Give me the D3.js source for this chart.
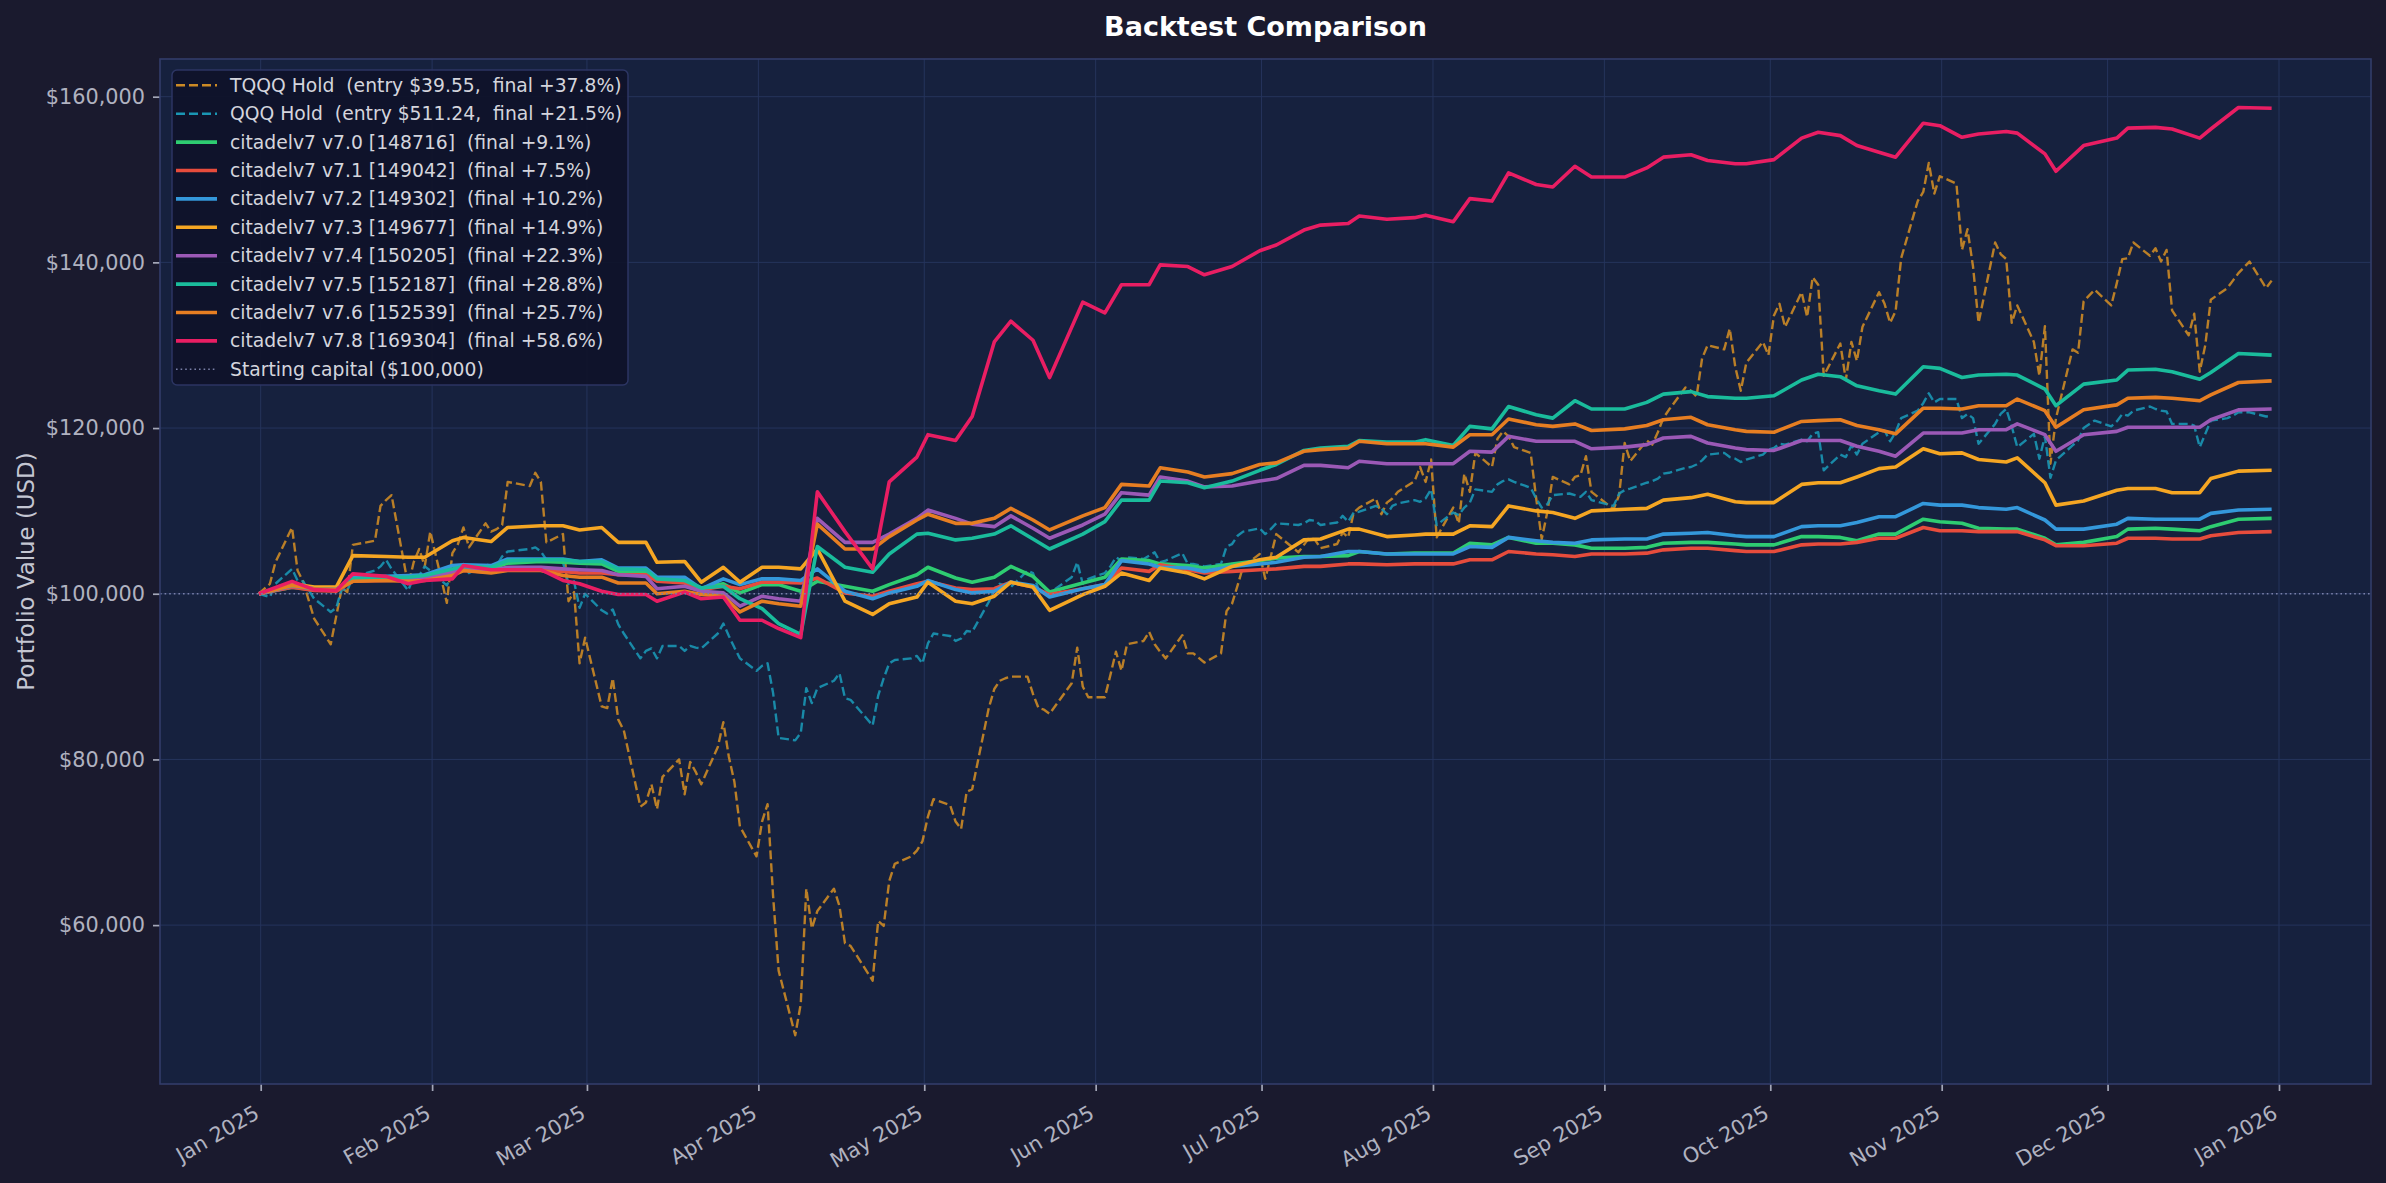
<!DOCTYPE html>
<html>
<head>
<meta charset="utf-8">
<script src="https://cdn.jsdelivr.net/npm/d3@7"></script>
<style>
  body { margin: 0; background: #1a1a2e; }
  text { font-family: "DejaVu Sans", sans-serif; }
</style>
</head>
<body>
<svg id="chart"></svg>
<script>
// ---- data (portfolio values in $ thousands) ----

// sample dates shared by all citadelv7 runs
const STRAT_DATES = [
  '2024-12-31','2025-01-06','2025-01-10','2025-01-14','2025-01-17','2025-01-23','2025-01-27','2025-01-30',
  '2025-02-04','2025-02-06','2025-02-11','2025-02-14','2025-02-20','2025-02-24','2025-02-27','2025-03-03',
  '2025-03-06','2025-03-11','2025-03-13','2025-03-18','2025-03-21','2025-03-25','2025-03-28','2025-04-01',
  '2025-04-04','2025-04-08','2025-04-11','2025-04-16','2025-04-21','2025-04-24','2025-04-29','2025-05-01',
  '2025-05-06','2025-05-09','2025-05-13','2025-05-16','2025-05-20','2025-05-23','2025-05-29','2025-06-02',
  '2025-06-05','2025-06-10','2025-06-12','2025-06-17','2025-06-20','2025-06-25','2025-06-30','2025-07-03',
  '2025-07-08','2025-07-11','2025-07-16','2025-07-18','2025-07-23','2025-07-28','2025-07-30','2025-08-04',
  '2025-08-07','2025-08-11','2025-08-14','2025-08-19','2025-08-22','2025-08-26','2025-08-29','2025-09-04',
  '2025-09-08','2025-09-11','2025-09-16','2025-09-19','2025-09-24','2025-09-26','2025-10-01','2025-10-06',
  '2025-10-09','2025-10-13','2025-10-16','2025-10-20','2025-10-23','2025-10-28','2025-10-31','2025-11-04',
  '2025-11-07','2025-11-12','2025-11-14','2025-11-19','2025-11-21','2025-11-26','2025-12-02','2025-12-04',
  '2025-12-09','2025-12-12','2025-12-17','2025-12-19','2025-12-24','2025-12-30'
];

const V70 = [
  100,100.8,100.5,100.4,101.6,101.8,101.9,102.0,102.8,103.1,103.0,103.7,103.9,103.8,103.7,103.6,
  102.7,102.7,101.8,101.5,100.7,101.2,100.1,101.1,101.1,100.3,101.5,100.9,100.3,101.1,102.3,103.2,101.9,101.4,
  102.0,103.3,102.1,100.2,101.3,102.0,104.2,104.0,103.6,103.4,103.1,103.6,104.0,104.3,
  104.5,104.5,104.6,105.1,104.8,104.9,104.9,104.9,106.1,105.9,106.8,106.1,106.1,105.9,105.5,105.5,
  105.6,106.1,106.2,106.2,106.0,105.9,105.9,106.9,106.9,106.8,106.4,107.2,107.2,109.0,108.7,108.5,
  107.9,107.8,107.8,106.7,105.9,106.2,106.9,107.8,107.9,107.8,107.6,108.1,109.0,109.1
];
const V71 = [
  100,100.8,100.4,100.3,101.5,101.6,101.6,101.7,102.4,102.8,102.6,102.9,102.9,102.7,102.5,102.5,
  102.3,102.3,101.5,101.3,100.5,100.9,100.6,101.4,101.4,101.3,101.9,100.1,99.7,100.3,101.2,101.5,100.7,100.5,
  100.6,101.4,100.8,99.9,100.6,101.1,103.1,102.7,103.5,102.9,102.5,102.7,102.9,103.0,
  103.3,103.3,103.6,103.6,103.5,103.6,103.6,103.6,104.1,104.1,105.1,104.8,104.7,104.5,104.8,104.8,
  104.9,105.3,105.5,105.5,105.2,105.1,105.1,105.9,106.0,106.0,106.2,106.7,106.7,108.0,107.6,107.6,
  107.5,107.5,107.5,106.5,105.8,105.8,106.1,106.7,106.7,106.6,106.6,107.0,107.4,107.5
];
const V72 = [
  100,101.0,100.6,100.5,102.0,102.1,102.2,102.3,103.4,103.5,103.4,104.2,104.2,104.2,103.9,104.1,
  103.1,103.1,102.0,102.0,100.6,101.8,101.1,101.8,101.8,101.6,103.0,100.3,99.4,100.1,100.9,101.6,100.5,100.1,
  100.3,101.4,101.0,99.6,100.6,101.1,104.0,103.6,103.2,103.1,102.7,103.3,103.6,103.8,
  104.4,104.5,105.1,105.1,104.8,104.8,104.8,104.8,105.7,105.6,106.8,106.4,106.2,106.1,106.5,106.6,
  106.6,107.2,107.3,107.4,107.0,106.9,106.9,108.1,108.2,108.2,108.6,109.3,109.3,110.9,110.7,110.7,
  110.4,110.2,110.4,108.9,107.8,107.8,108.4,109.1,109.0,109.0,109.0,109.7,110.1,110.2
];
const V73 = [
  100,101.2,100.8,100.8,104.6,104.5,104.4,104.4,106.4,106.8,106.3,108.0,108.2,108.2,107.7,108.0,
  106.2,106.2,103.8,103.9,101.4,103.2,101.4,103.2,103.2,103.0,105.4,99.1,97.5,98.8,99.6,101.4,99.1,98.8,
  99.7,101.4,100.8,98.0,99.9,100.9,102.5,101.6,103.1,102.5,101.8,103.3,104.1,104.4,
  106.5,106.6,107.8,107.8,106.9,107.1,107.2,107.2,108.2,108.1,110.6,110.0,109.8,109.1,110.0,110.2,
  110.3,111.3,111.6,112.0,111.1,111.0,111.0,113.2,113.4,113.4,114.1,115.1,115.3,117.5,116.9,117.0,
  116.2,115.9,116.4,113.4,110.7,111.2,112.5,112.7,112.7,112.2,112.2,113.9,114.8,114.9
];
const V74 = [
  100,100.9,100.6,100.5,101.8,101.8,101.8,101.9,102.6,103.0,102.8,103.2,103.2,103.0,102.9,102.8,
  102.3,102.1,100.6,100.9,100.3,100.1,98.5,99.7,99.4,99.1,109.1,106.2,106.2,107.2,109.1,110.1,109.1,108.4,
  108.1,109.4,107.9,106.7,108.3,109.6,112.2,111.9,114.1,113.6,112.9,113.0,113.6,113.9,
  115.5,115.5,115.2,116.0,115.7,115.7,115.7,115.7,117.2,117.1,119.0,118.4,118.4,118.4,117.5,117.7,
  118.0,118.8,119.0,118.2,117.6,117.4,117.3,118.5,118.5,118.5,117.8,117.2,116.6,119.4,119.4,119.4,
  119.8,119.8,120.5,119.2,117.2,119.2,119.6,120.1,120.1,120.1,120.1,121.0,122.2,122.3
];
const V75 = [
  100,101.0,100.6,100.5,101.8,102.0,102.0,102.2,103.0,103.3,103.2,104.0,104.1,104.1,103.9,103.9,
  103.0,102.9,101.8,101.6,100.7,100.9,99.4,98.2,96.4,95.1,105.7,103.2,102.6,104.8,107.2,107.3,106.5,106.7,
  107.2,108.2,106.6,105.4,107.2,108.7,111.3,111.3,113.6,113.4,112.8,113.6,114.9,115.6,
  117.3,117.6,117.8,118.5,118.3,118.3,118.6,117.9,120.2,119.9,122.6,121.6,121.2,123.3,122.3,122.3,
  123.1,124.1,124.4,123.8,123.6,123.6,123.9,125.8,126.5,126.2,125.1,124.5,124.1,127.4,127.2,126.1,
  126.4,126.5,126.4,124.7,122.7,125.3,125.8,127.0,127.1,126.8,125.9,126.7,129.0,128.8
];
const V76 = [
  100,101.0,100.6,100.5,101.5,101.6,101.5,101.6,102.2,102.8,102.5,102.8,102.8,102.2,102.0,102.0,
  101.3,101.3,100.0,100.3,99.9,99.7,97.8,99.1,98.8,98.5,108.4,105.4,105.4,106.9,108.9,109.6,108.5,108.5,
  109.1,110.3,108.9,107.7,109.4,110.4,113.2,113.0,115.2,114.7,114.1,114.5,115.6,115.8,
  117.2,117.4,117.6,118.4,118.1,118.1,118.1,117.7,119.2,119.2,121.1,120.4,120.2,120.5,119.7,119.9,
  120.3,121.0,121.3,120.4,119.8,119.6,119.5,120.8,120.9,121.0,120.3,119.8,119.3,122.4,122.4,122.3,
  122.7,122.7,123.5,122.1,120.1,122.2,122.8,123.6,123.7,123.6,123.3,124.0,125.5,125.7
];
const V78 = [
  100,101.5,100.5,100.4,102.4,102.1,101.2,101.6,101.8,103.4,102.9,102.9,102.9,101.6,101.2,100.3,
  99.9,99.9,99.1,100.2,99.4,99.6,96.8,96.8,95.8,94.7,112.3,107.5,103.0,113.5,116.5,119.2,118.5,121.4,
  130.4,132.9,130.6,126.1,135.2,133.9,137.3,137.3,139.7,139.5,138.5,139.5,141.4,142.1,
  143.9,144.5,144.7,145.6,145.2,145.4,145.7,144.9,147.7,147.4,150.8,149.4,149.1,151.6,150.3,150.3,
  151.4,152.7,153.0,152.3,151.9,151.9,152.4,155.0,155.7,155.3,154.1,153.3,152.7,156.8,156.5,155.1,
  155.5,155.8,155.6,153.1,151.0,154.1,155.0,156.2,156.3,156.1,155.0,156.1,158.7,158.6
];

// buy-and-hold benchmarks (daily closes)
const TQQQ = [
  ['2024-12-31',100.0],['2025-01-02',101.2],['2025-01-03',103.8],['2025-01-06',108.0],['2025-01-07',102.8],
  ['2025-01-08',101.5],['2025-01-10',97.0],['2025-01-13',93.9],['2025-01-14',97.3],['2025-01-15',100.7],
  ['2025-01-16',100.2],['2025-01-17',105.9],['2025-01-21',106.4],['2025-01-22',110.6],['2025-01-23',111.3],
  ['2025-01-24',111.9],['2025-01-27',101.0],['2025-01-28',103.8],['2025-01-29',105.4],['2025-01-30',103.3],
  ['2025-01-31',107.5],['2025-02-03',98.9],['2025-02-04',104.9],['2025-02-05',106.0],['2025-02-06',108.0],
  ['2025-02-07',105.6],['2025-02-10',108.5],['2025-02-11',107.5],['2025-02-12',107.8],['2025-02-13',108.3],
  ['2025-02-14',113.5],['2025-02-18',113.0],['2025-02-19',114.6],['2025-02-20',113.5],['2025-02-21',106.2],
  ['2025-02-24',107.2],['2025-02-25',99.1],['2025-02-26',100.2],['2025-02-27',91.6],['2025-02-28',94.7],
  ['2025-03-03',86.4],['2025-03-04',86.2],['2025-03-05',89.8],['2025-03-06',84.8],['2025-03-07',83.5],
  ['2025-03-10',74.3],['2025-03-11',74.8],['2025-03-12',77.0],['2025-03-13',74.0],['2025-03-14',77.9],
  ['2025-03-17',80.0],['2025-03-18',75.8],['2025-03-19',79.7],['2025-03-20',78.5],['2025-03-21',77.0],
  ['2025-03-24',81.5],['2025-03-25',84.5],['2025-03-26',80.3],['2025-03-27',77.3],['2025-03-28',71.9],
  ['2025-03-31',68.3],['2025-04-01',72.5],['2025-04-02',74.6],['2025-04-03',63.5],['2025-04-04',54.5],
  ['2025-04-07',46.7],['2025-04-08',50.5],['2025-04-09',64.4],['2025-04-10',59.6],['2025-04-11',61.7],
  ['2025-04-14',64.4],['2025-04-15',62.3],['2025-04-16',57.8],['2025-04-17',57.5],['2025-04-21',53.3],
  ['2025-04-22',60.5],['2025-04-23',59.9],['2025-04-24',65.3],['2025-04-25',67.4],['2025-04-28',68.3],
  ['2025-04-29',69.0],['2025-04-30',70.1],['2025-05-01',73.1],['2025-05-02',75.2],['2025-05-05',74.5],
  ['2025-05-06',72.5],['2025-05-07',71.6],['2025-05-08',76.1],['2025-05-09',76.4],['2025-05-12',86.2],
  ['2025-05-13',88.5],['2025-05-14',89.5],['2025-05-15',89.8],['2025-05-16',90.0],['2025-05-19',90.0],
  ['2025-05-20',87.9],['2025-05-21',86.2],['2025-05-22',86.0],['2025-05-23',85.5],['2025-05-27',89.2],
  ['2025-05-28',93.5],['2025-05-29',88.8],['2025-05-30',87.5],['2025-06-02',87.5],['2025-06-03',90.2],
  ['2025-06-04',93.0],['2025-06-05',90.7],['2025-06-06',93.9],['2025-06-09',94.3],['2025-06-10',95.4],
  ['2025-06-11',93.9],['2025-06-12',93.0],['2025-06-13',92.2],['2025-06-16',95.0],['2025-06-17',92.8],
  ['2025-06-18',92.8],['2025-06-20',91.7],['2025-06-23',92.8],['2025-06-24',97.9],['2025-06-25',98.8],
  ['2025-06-26',101.0],['2025-06-27',103.3],['2025-06-30',104.8],['2025-07-01',101.8],['2025-07-02',104.5],
  ['2025-07-03',107.2],['2025-07-07',105.0],['2025-07-08',105.9],['2025-07-09',106.8],['2025-07-10',106.5],
  ['2025-07-11',105.5],['2025-07-14',106.0],['2025-07-15',107.4],['2025-07-16',106.8],['2025-07-17',109.8],
  ['2025-07-18',110.4],['2025-07-21',111.5],['2025-07-22',109.6],['2025-07-23',111.0],['2025-07-24',111.5],
  ['2025-07-25',112.3],['2025-07-28',113.6],['2025-07-29',115.3],['2025-07-30',113.5],['2025-07-31',116.2],
  ['2025-08-01',106.8],['2025-08-04',110.4],['2025-08-05',108.5],['2025-08-06',114.5],['2025-08-07',112.3],
  ['2025-08-08',117.0],['2025-08-11',115.3],['2025-08-12',118.7],['2025-08-13',119.6],['2025-08-14',119.0],
  ['2025-08-15',117.7],['2025-08-18',117.0],['2025-08-19',111.5],['2025-08-20',106.6],['2025-08-21',109.8],
  ['2025-08-22',114.1],['2025-08-25',113.2],['2025-08-26',114.1],['2025-08-27',114.3],['2025-08-28',116.6],
  ['2025-08-29',112.3],['2025-09-02',110.2],['2025-09-03',111.9],['2025-09-04',118.2],['2025-09-05',116.0],
  ['2025-09-08',118.5],['2025-09-09',118.0],['2025-09-10',119.5],['2025-09-11',121.2],['2025-09-12',122.2],
  ['2025-09-15',124.9],['2025-09-16',124.5],['2025-09-17',123.8],['2025-09-18',128.4],['2025-09-19',130.0],
  ['2025-09-22',129.5],['2025-09-23',132.0],['2025-09-24',127.4],['2025-09-25',124.5],['2025-09-26',127.9],
  ['2025-09-29',130.4],['2025-09-30',128.8],['2025-10-01',133.6],['2025-10-02',135.0],['2025-10-03',132.2],
  ['2025-10-06',136.4],['2025-10-07',133.4],['2025-10-08',138.2],['2025-10-09',137.3],['2025-10-10',126.3],
  ['2025-10-13',130.2],['2025-10-14',125.8],['2025-10-15',130.4],['2025-10-16',128.1],['2025-10-17',132.2],
  ['2025-10-20',136.4],['2025-10-21',135.0],['2025-10-22',132.7],['2025-10-23',134.1],['2025-10-24',140.5],
  ['2025-10-27',147.4],['2025-10-28',148.5],['2025-10-29',152.0],['2025-10-30',148.3],['2025-10-31',150.4],
  ['2025-11-03',149.5],['2025-11-04',141.5],['2025-11-05',144.0],['2025-11-06',139.5],['2025-11-07',132.7],
  ['2025-11-10',142.4],['2025-11-11',141.0],['2025-11-12',140.4],['2025-11-13',132.7],['2025-11-14',134.8],
  ['2025-11-17',130.4],['2025-11-18',126.3],['2025-11-19',132.3],['2025-11-20',115.7],['2025-11-21',121.2],
  ['2025-11-24',129.5],['2025-11-25',129.1],['2025-11-26',135.3],['2025-11-28',136.7],['2025-12-01',134.8],
  ['2025-12-02',137.5],['2025-12-03',140.4],['2025-12-04',140.5],['2025-12-05',142.4],['2025-12-08',140.8],
  ['2025-12-09',141.7],['2025-12-10',140.1],['2025-12-11',141.5],['2025-12-12',134.2],['2025-12-15',131.2],
  ['2025-12-16',133.8],['2025-12-17',126.8],['2025-12-18',130.0],['2025-12-19',135.5],['2025-12-22',136.9],
  ['2025-12-23',137.8],['2025-12-24',138.7],['2025-12-26',140.1],['2025-12-29',136.9],['2025-12-30',137.8]
];

const QQQ = [
  ['2024-12-31',100.0],['2025-01-02',99.6],['2025-01-03',101.2],['2025-01-06',103.0],['2025-01-07',101.6],
  ['2025-01-08',101.5],['2025-01-10',99.4],['2025-01-13',97.8],['2025-01-14',98.3],['2025-01-15',100.6],
  ['2025-01-16',100.4],['2025-01-17',102.0],['2025-01-21',102.8],['2025-01-22',103.3],['2025-01-23',104.1],
  ['2025-01-24',103.0],['2025-01-27',100.4],['2025-01-28',102.0],['2025-01-29',102.2],['2025-01-30',103.3],
  ['2025-01-31',102.8],['2025-02-03',101.0],['2025-02-04',102.5],['2025-02-05',103.0],['2025-02-06',103.6],
  ['2025-02-07',102.5],['2025-02-10',103.6],['2025-02-11',103.3],['2025-02-12',103.4],['2025-02-13',104.5],
  ['2025-02-14',105.1],['2025-02-18',105.4],['2025-02-19',105.6],['2025-02-20',105.1],['2025-02-21',104.1],
  ['2025-02-24',103.8],['2025-02-25',101.2],['2025-02-26',101.5],['2025-02-27',98.3],['2025-02-28',100.0],
  ['2025-03-03',98.0],['2025-03-04',97.6],['2025-03-05',98.1],['2025-03-06',96.3],['2025-03-07',95.2],
  ['2025-03-10',92.2],['2025-03-11',93.1],['2025-03-12',93.4],['2025-03-13',92.2],['2025-03-14',93.7],
  ['2025-03-17',93.7],['2025-03-18',93.1],['2025-03-19',93.7],['2025-03-20',93.5],['2025-03-21',93.4],
  ['2025-03-24',95.2],['2025-03-25',96.4],['2025-03-26',94.9],['2025-03-27',93.5],['2025-03-28',92.2],
  ['2025-03-31',90.7],['2025-04-01',91.3],['2025-04-02',91.6],['2025-04-03',88.0],['2025-04-04',82.6],
  ['2025-04-07',82.3],['2025-04-08',83.2],['2025-04-09',88.6],['2025-04-10',86.8],['2025-04-11',88.6],
  ['2025-04-14',89.5],['2025-04-15',90.4],['2025-04-16',87.4],['2025-04-17',87.2],['2025-04-21',84.1],
  ['2025-04-22',87.7],['2025-04-23',89.8],['2025-04-24',91.6],['2025-04-25',92.0],['2025-04-28',92.2],
  ['2025-04-29',92.5],['2025-04-30',91.6],['2025-05-01',94.0],['2025-05-02',95.2],['2025-05-05',94.9],
  ['2025-05-06',94.3],['2025-05-07',94.6],['2025-05-08',95.5],['2025-05-09',95.4],['2025-05-12',99.0],
  ['2025-05-13',100.5],['2025-05-14',101.2],['2025-05-15',101.0],['2025-05-16',100.8],['2025-05-19',102.8],
  ['2025-05-20',102.5],['2025-05-21',100.5],['2025-05-22',100.1],['2025-05-23',100.1],['2025-05-27',102.0],
  ['2025-05-28',103.8],['2025-05-29',101.2],['2025-05-30',101.8],['2025-06-02',102.5],['2025-06-03',103.3],
  ['2025-06-04',104.4],['2025-06-05',104.0],['2025-06-06',104.4],['2025-06-09',104.2],['2025-06-10',104.6],
  ['2025-06-11',105.0],['2025-06-12',103.8],['2025-06-13',104.0],['2025-06-16',104.9],['2025-06-17',103.6],
  ['2025-06-18',103.6],['2025-06-20',103.3],['2025-06-23',103.6],['2025-06-24',105.7],['2025-06-25',106.0],
  ['2025-06-26',107.0],['2025-06-27',107.5],['2025-06-30',107.9],['2025-07-01',107.2],['2025-07-02',107.8],
  ['2025-07-03',108.5],['2025-07-07',108.3],['2025-07-08',108.5],['2025-07-09',108.9],['2025-07-10',108.8],
  ['2025-07-11',108.3],['2025-07-14',108.6],['2025-07-15',109.4],['2025-07-16',108.7],['2025-07-17',109.8],
  ['2025-07-18',109.9],['2025-07-21',110.6],['2025-07-22',110.3],['2025-07-23',109.6],['2025-07-24',110.6],
  ['2025-07-25',110.9],['2025-07-28',111.3],['2025-07-29',111.1],['2025-07-30',111.5],['2025-07-31',112.6],
  ['2025-08-01',108.3],['2025-08-04',109.8],['2025-08-05',109.5],['2025-08-06',110.4],['2025-08-07',111.0],
  ['2025-08-08',112.6],['2025-08-11',112.3],['2025-08-12',113.2],['2025-08-13',113.6],['2025-08-14',113.8],
  ['2025-08-15',113.5],['2025-08-18',112.8],['2025-08-19',111.5],['2025-08-20',110.4],['2025-08-21',110.8],
  ['2025-08-22',111.9],['2025-08-25',112.1],['2025-08-26',111.9],['2025-08-27',111.7],['2025-08-28',112.3],
  ['2025-08-29',111.3],['2025-09-02',110.6],['2025-09-03',112.1],['2025-09-04',112.5],['2025-09-05',112.7],
  ['2025-09-08',113.4],['2025-09-09',113.6],['2025-09-10',113.9],['2025-09-11',114.5],['2025-09-12',114.6],
  ['2025-09-15',115.2],['2025-09-16',115.3],['2025-09-17',115.6],['2025-09-18',116.1],['2025-09-19',116.8],
  ['2025-09-22',117.0],['2025-09-23',116.5],['2025-09-24',116.3],['2025-09-25',115.9],['2025-09-26',116.2],
  ['2025-09-29',116.8],['2025-09-30',117.4],['2025-10-01',117.6],['2025-10-02',118.1],['2025-10-03',118.0],
  ['2025-10-06',118.6],['2025-10-07',118.4],['2025-10-08',119.3],['2025-10-09',119.5],['2025-10-10',114.9],
  ['2025-10-13',116.8],['2025-10-14',116.5],['2025-10-15',117.9],['2025-10-16',116.8],['2025-10-17',118.1],
  ['2025-10-20',119.5],['2025-10-21',119.7],['2025-10-22',118.4],['2025-10-23',119.5],['2025-10-24',121.2],
  ['2025-10-27',122.1],['2025-10-28',123.0],['2025-10-29',124.2],['2025-10-30',123.1],['2025-10-31',123.5],
  ['2025-11-03',123.5],['2025-11-04',121.2],['2025-11-05',121.7],['2025-11-06',121.2],['2025-11-07',118.1],
  ['2025-11-10',120.5],['2025-11-11',121.7],['2025-11-12',122.3],['2025-11-13',120.2],['2025-11-14',117.7],
  ['2025-11-17',119.3],['2025-11-18',116.3],['2025-11-19',119.0],['2025-11-20',114.0],['2025-11-21',116.1],
  ['2025-11-24',117.9],['2025-11-25',118.5],['2025-11-26',120.0],['2025-11-28',120.9],['2025-12-01',120.2],
  ['2025-12-02',120.8],['2025-12-03',121.7],['2025-12-04',121.5],['2025-12-05',122.1],['2025-12-08',122.6],
  ['2025-12-09',122.3],['2025-12-10',122.1],['2025-12-11',122.0],['2025-12-12',120.5],['2025-12-15',120.5],
  ['2025-12-16',120.3],['2025-12-17',117.7],['2025-12-18',119.3],['2025-12-19',120.9],['2025-12-22',121.2],
  ['2025-12-23',121.5],['2025-12-24',121.9],['2025-12-26',121.9],['2025-12-29',121.4],['2025-12-30',121.5]
];

const START_CAPITAL = 100000;
const Y_TICKS = [60000, 80000, 100000, 120000, 140000, 160000];

// ---- layout ----
const W = 2386, H = 1183;
const M = { left: 160, top: 59, right: 2371, bottom: 1084 };
const iw = M.right - M.left, ih = M.bottom - M.top;

const parse = d3.timeParse('%Y-%m-%d');
// closes are stamped at 16:00
const at = s => d3.timeHour.offset(parse(s), 16);

const strat = (vals) => vals.map((v, i) => ({ date: at(STRAT_DATES[i]), value: v * 1000 }));
const daily = (rows) => rows.map(r => ({ date: at(r[0]), value: r[1] * 1000 }));

const series = [
  { label: 'TQQQ Hold  (entry $39.55,  final +37.8%)', color: '#cc8a25', width: 2.4, dash: '9,4', data: daily(TQQQ) },
  { label: 'QQQ Hold  (entry $511.24,  final +21.5%)', color: '#1a96b4', width: 2.4, dash: '9,4', data: daily(QQQ) },
  { label: 'citadelv7 v7.0 [148716]  (final +9.1%)', color: '#2ecc71', width: 3.6, data: strat(V70) },
  { label: 'citadelv7 v7.1 [149042]  (final +7.5%)', color: '#e74c3c', width: 3.6, data: strat(V71) },
  { label: 'citadelv7 v7.2 [149302]  (final +10.2%)', color: '#3498db', width: 3.6, data: strat(V72) },
  { label: 'citadelv7 v7.3 [149677]  (final +14.9%)', color: '#f5a623', width: 3.6, data: strat(V73) },
  { label: 'citadelv7 v7.4 [150205]  (final +22.3%)', color: '#9b59b6', width: 3.6, data: strat(V74) },
  { label: 'citadelv7 v7.5 [152187]  (final +28.8%)', color: '#1abc9c', width: 3.6, data: strat(V75) },
  { label: 'citadelv7 v7.6 [152539]  (final +25.7%)', color: '#e67e22', width: 3.6, data: strat(V76) },
  { label: 'citadelv7 v7.8 [169304]  (final +58.6%)', color: '#e91e63', width: 3.6, data: strat(V78) }
];

const svg = d3.select('#chart').attr('width', W).attr('height', H);
svg.append('rect').attr('width', W).attr('height', H).attr('fill', '#1a1a2e');

svg.append('text')
  .attr('x', (M.left + M.right) / 2).attr('y', 26)
  .attr('text-anchor', 'middle').attr('dominant-baseline', 'central')
  .attr('fill', '#ffffff').style('font-size', '27px').style('font-weight', 'bold')
  .text('Backtest Comparison');

const g = svg.append('g').attr('transform', `translate(${M.left},${M.top})`);
g.append('rect').attr('width', iw).attr('height', ih).attr('fill', '#16213e');

const x = d3.scaleTime()
  .domain([new Date(2025, 0, 1), new Date(2026, 0, 1)])
  .range([100.7, 2119]);
const y = d3.scaleLinear().domain([40820, 164550]).range([ih, 0]);

const months = d3.timeMonth.range(new Date(2025, 0, 1), new Date(2026, 0, 2));

// grid
g.append('g').selectAll('line').data(months).enter().append('line')
  .attr('x1', d => x(d)).attr('x2', d => x(d)).attr('y1', 0).attr('y2', ih)
  .attr('stroke', '#25345c').attr('stroke-width', 1);
g.append('g').selectAll('line').data(Y_TICKS).enter().append('line')
  .attr('x1', 0).attr('x2', iw).attr('y1', d => y(d)).attr('y2', d => y(d))
  .attr('stroke', '#25345c').attr('stroke-width', 1);

// axes
const xAxis = d3.axisBottom(x).tickValues(months).tickFormat(d3.timeFormat('%b %Y')).tickSize(7).tickSizeOuter(0);
const xg = g.append('g').attr('transform', `translate(0,${ih})`).call(xAxis);
xg.select('.domain').remove();
xg.selectAll('.tick line').attr('stroke', '#a4a7b8').attr('stroke-width', 1.7);
xg.selectAll('.tick text')
  .attr('y', 0).attr('dy', '0.73em')
  .attr('transform', 'translate(-8,20) rotate(-30)')
  .style('text-anchor', 'end').style('font-size', '20.8px')
  .attr('fill', '#b0b2c0');

const yAxis = d3.axisLeft(y).tickValues(Y_TICKS).tickFormat(d3.format('$,.0f')).tickSize(7).tickPadding(8).tickSizeOuter(0);
const yg = g.append('g').call(yAxis);
yg.select('.domain').remove();
yg.selectAll('.tick line').attr('stroke', '#a4a7b8').attr('stroke-width', 1.7);
yg.selectAll('.tick text').style('font-size', '20.8px').attr('fill', '#b0b2c0');

svg.append('text')
  .attr('transform', `translate(26,${(M.top + M.bottom) / 2}) rotate(-90)`)
  .attr('text-anchor', 'middle').attr('dominant-baseline', 'central')
  .attr('fill', '#c4c6d2').style('font-size', '22.9px')
  .text('Portfolio Value (USD)');

// lines
g.append('clipPath').attr('id', 'plotclip').append('rect').attr('width', iw).attr('height', ih);
const plot = g.append('g').attr('clip-path', 'url(#plotclip)');
const line = d3.line().x(d => x(d.date)).y(d => y(d.value));

series.forEach(s => {
  plot.append('path').datum(s.data)
    .attr('d', line)
    .attr('fill', 'none')
    .attr('stroke', s.color)
    .attr('stroke-width', s.width)
    .attr('stroke-linejoin', 'round')
    .attr('stroke-dasharray', s.dash || null)
    .attr('opacity', s.dash ? 0.9 : 1);
});

plot.append('line')
  .attr('x1', 0).attr('x2', iw).attr('y1', y(START_CAPITAL)).attr('y2', y(START_CAPITAL))
  .attr('stroke', '#7a80a8').attr('stroke-width', 1.4).attr('stroke-dasharray', '1.6,3');

// spines
g.append('rect').attr('width', iw).attr('height', ih)
  .attr('fill', 'none').attr('stroke', '#323c6a').attr('stroke-width', 1.6);

// legend
const legendItems = series.map(s => ({ label: s.label, color: s.color, width: s.width, dash: s.dash }))
  .concat([{ label: 'Starting capital ($100,000)', color: '#7a80a8', width: 1.4, dash: '1.6,3' }]);
const lg = svg.append('g');
lg.append('rect')
  .attr('x', 172).attr('y', 70).attr('width', 456).attr('height', 315)
  .attr('rx', 5).attr('fill', '#0f1229').attr('fill-opacity', 0.92)
  .attr('stroke', '#2c3563').attr('stroke-width', 1.5);
legendItems.forEach((d, i) => {
  const cy = 85.3 + i * 28.4;
  lg.append('line')
    .attr('x1', 176).attr('x2', 217).attr('y1', cy).attr('y2', cy)
    .attr('stroke', d.color).attr('stroke-width', d.width)
    .attr('stroke-dasharray', d.dash || null);
  lg.append('text')
    .attr('x', 230).attr('y', cy).attr('dominant-baseline', 'central')
    .attr('fill', '#d4d5dd').style('font-size', '18.75px').style('white-space', 'pre')
    .text(d.label);
});
</script>
</body>
</html>
